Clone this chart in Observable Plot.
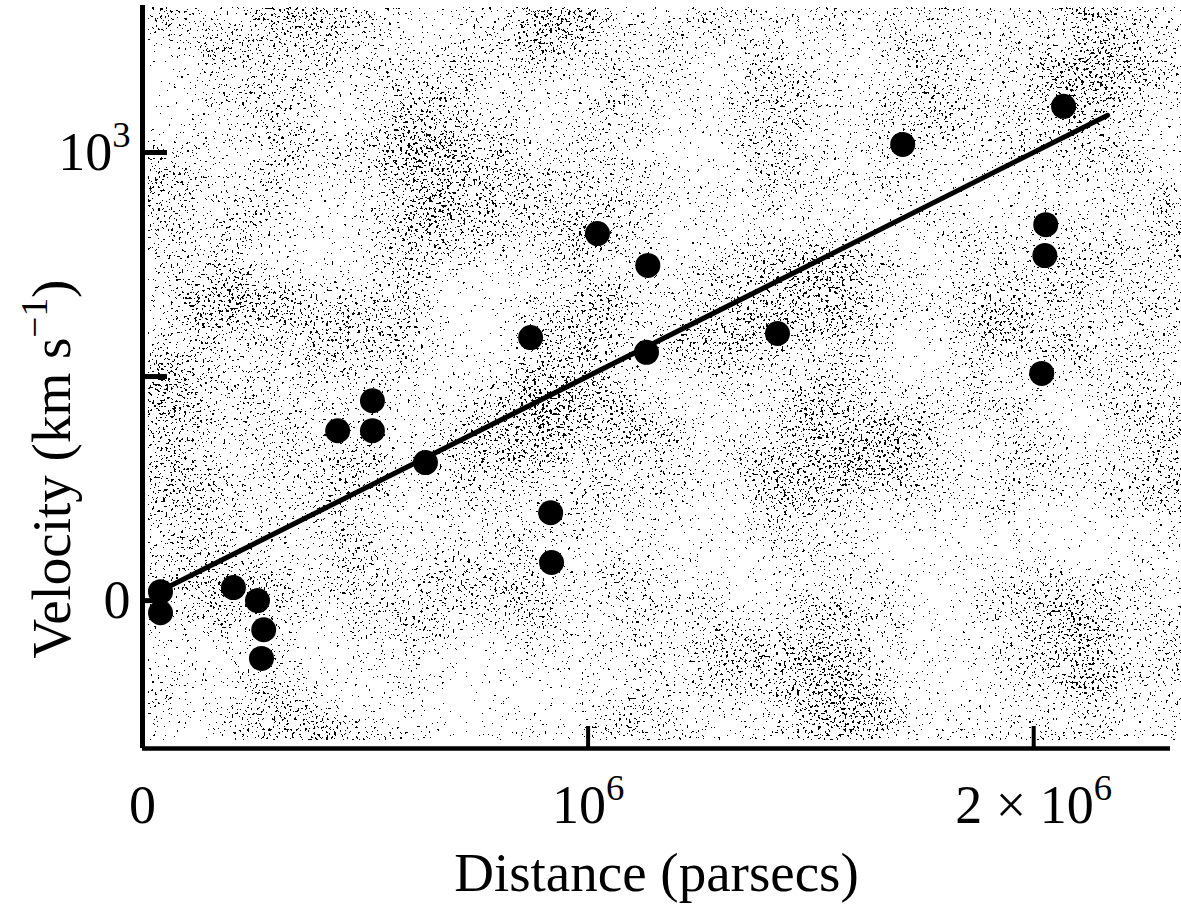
<!DOCTYPE html>
<html>
<head>
<meta charset="utf-8">
<script src="https://cdn.jsdelivr.net/npm/d3@7"></script>
<script src="https://cdn.jsdelivr.net/npm/@observablehq/plot@0.6"></script>
<style>
  html, body { margin: 0; padding: 0; background: #fff; }
  #chart svg { display: block; }
</style>
</head>
<body>
<div id="chart"></div>
<script>
// Galaxy distances (parsecs) and radial velocities (km/s)
const distances = [40400, 40400, 204000, 258000, 272000, 267000, 438000, 516000, 516000, 635000,
                   871000, 1021000, 1134000, 1131000, 1425000, 916000, 918000,
                   2067000, 1706000, 2027000, 2025000, 2018000];
const velocities = [20, -27, 29, 0, -65, -129, 379, 446, 379, 308,
                    587, 819, 748, 554, 596, 196, 85,
                    1103, 1018, 839, 770, 507];

// Fitted straight line (end points)
const fitDistance = [62800, 2166000];
const fitVelocity = [33, 1083];

// Axes
const xDomain = [0, 2307000];
const yDomain = [-330, 1328];
const xTickValues = [0, 1000000, 2000000];
const xTickLabels = ["0", "10^{6}", "2 × 10^{6}"];
const xTickMarks = [1000000, 2000000];
const yTickValues = [0, 1000];
const yTickLabels = ["0", "10^{3}"];
const yTickMarks = [0, 500, 1000];
const xTitle = "Distance (parsecs)";
const yTitle = "Velocity (km s^{−1})";

const points = distances.map((d, i) => ({distance: d, velocity: velocities[i]}));
const fit = fitDistance.map((d, i) => ({distance: d, velocity: fitVelocity[i]}));

// Decorative speckled (stippled print) background inside the frame
function speckle(index, scales, values, dimensions) {
  const {width, height, marginLeft, marginTop, marginBottom} = dimensions;
  const ns = "http://www.w3.org/2000/svg";
  const g = document.createElementNS(ns, "g");
  const x0 = marginLeft + 6, y0 = marginTop + 2;
  const w = width - x0, h = height - marginBottom - y0 - 8;
  const table = Array.from({length: 25}, (_, i) => (i >= 17 ? 1 : 0)).join(" ");
  g.innerHTML = `
    <defs>
      <filter id="spk" x="0" y="0" width="100%" height="100%" color-interpolation-filters="sRGB" filterUnits="objectBoundingBox">
        <feTurbulence type="fractalNoise" baseFrequency="0.38" numOctaves="2" seed="7" result="hiN"/>
        <feColorMatrix in="hiN" type="matrix" values="0 0 0 0 0  0 0 0 0 0  0 0 0 0 0  1 0 0 0 0" result="hi"/>
        <feTurbulence type="fractalNoise" baseFrequency="0.008" numOctaves="2" seed="3" result="loN"/>
        <feColorMatrix in="loN" type="matrix" values="0 0 0 0 0  0 0 0 0 0  0 0 0 0 0  1 0 0 0 0" result="lo"/>
        <feComposite in="hi" in2="lo" operator="arithmetic" k1="0" k2="1" k3="0.3" k4="-0.15" result="mix"/>
        <feComponentTransfer in="mix">
          <feFuncA type="discrete" tableValues="${table}"/>
        </feComponentTransfer>
      </filter>
    </defs>
    <rect x="${x0}" y="${y0}" width="${w}" height="${h}" fill="black" filter="url(#spk)"/>`;
  return g;
}

const font = "'Liberation Serif', 'DejaVu Serif', serif";

const chart = Plot.plot({
  width: 1181,
  height: 912,
  marginLeft: 142,
  marginRight: 11,
  marginTop: 5,
  marginBottom: 164,
  style: {fontFamily: font, background: "white", color: "black"},
  x: {domain: xDomain, axis: null},
  y: {domain: yDomain, axis: null},
  marks: [
    speckle,
    Plot.ruleX([0], {stroke: "black", strokeWidth: 5}),
    Plot.ruleY([yDomain[0]], {stroke: "black", strokeWidth: 4.5}),
    // inward ticks
    Plot.axisY({ticks: yTickMarks, tickSize: 25, dx: 25, fill: "none", label: null,
                stroke: "black", strokeWidth: 5, strokeOpacity: 1}),
    Plot.axisX({ticks: xTickMarks, tickSize: 22, dy: -22, fill: "none", label: null,
                stroke: "black", strokeWidth: 4, strokeOpacity: 1}),
    // tick labels
    Plot.axisY({ticks: yTickValues, tickSize: 0, tickPadding: 12, label: null,
                tickFormat: d => yTickLabels[yTickValues.indexOf(d)], fontSize: 54, fill: "black"}),
    Plot.axisX({ticks: xTickValues, tickSize: 0, tickPadding: 36, label: null,
                tickFormat: d => xTickLabels[xTickValues.indexOf(d)], fontSize: 54, fill: "black"}),
    // fitted line and galaxies
    Plot.line(fit, {x: "distance", y: "velocity", stroke: "black", strokeWidth: 5}),
    Plot.dot(points, {x: "distance", y: "velocity", r: 12.5, fill: "black", stroke: null}),
    // axis titles
    Plot.text([xTitle], {frameAnchor: "bottom", textAnchor: "middle", dy: 142, text: d => d, fontSize: 55, fill: "black"}),
    Plot.text([yTitle], {frameAnchor: "left", textAnchor: "middle", lineAnchor: "middle", dx: -90, dy: 92, rotate: -90,
                         text: d => d, fontSize: 55, fill: "black"})
  ]
});

document.getElementById("chart").appendChild(chart);

// Turn "a^{b}c" into real superscripts
d3.select(chart).selectAll("text").each(function () {
  const el = this;
  const s = el.textContent;
  if (!s.includes("^{")) return;
  const fs = parseFloat(getComputedStyle(el).fontSize) || 54;
  const re = /\^\{([^}]*)\}/g;
  const parts = [];
  let last = 0, m;
  while ((m = re.exec(s))) {
    if (m.index > last) parts.push({t: s.slice(last, m.index), sup: false});
    parts.push({t: m[1], sup: true});
    last = re.lastIndex;
  }
  if (last < s.length) parts.push({t: s.slice(last), sup: false});
  while (el.firstChild) el.removeChild(el.firstChild);
  const shift = 0.42 * fs;
  let raised = false;
  for (const p of parts) {
    const ts = document.createElementNS("http://www.w3.org/2000/svg", "tspan");
    ts.textContent = p.t;
    if (p.sup) {
      ts.setAttribute("font-size", (0.68 * fs) + "px");
      ts.setAttribute("dy", (-shift) + "px");
      raised = true;
    } else if (raised) {
      ts.setAttribute("dy", shift + "px");
      raised = false;
    }
    el.appendChild(ts);
  }
});
</script>
</body>
</html>
